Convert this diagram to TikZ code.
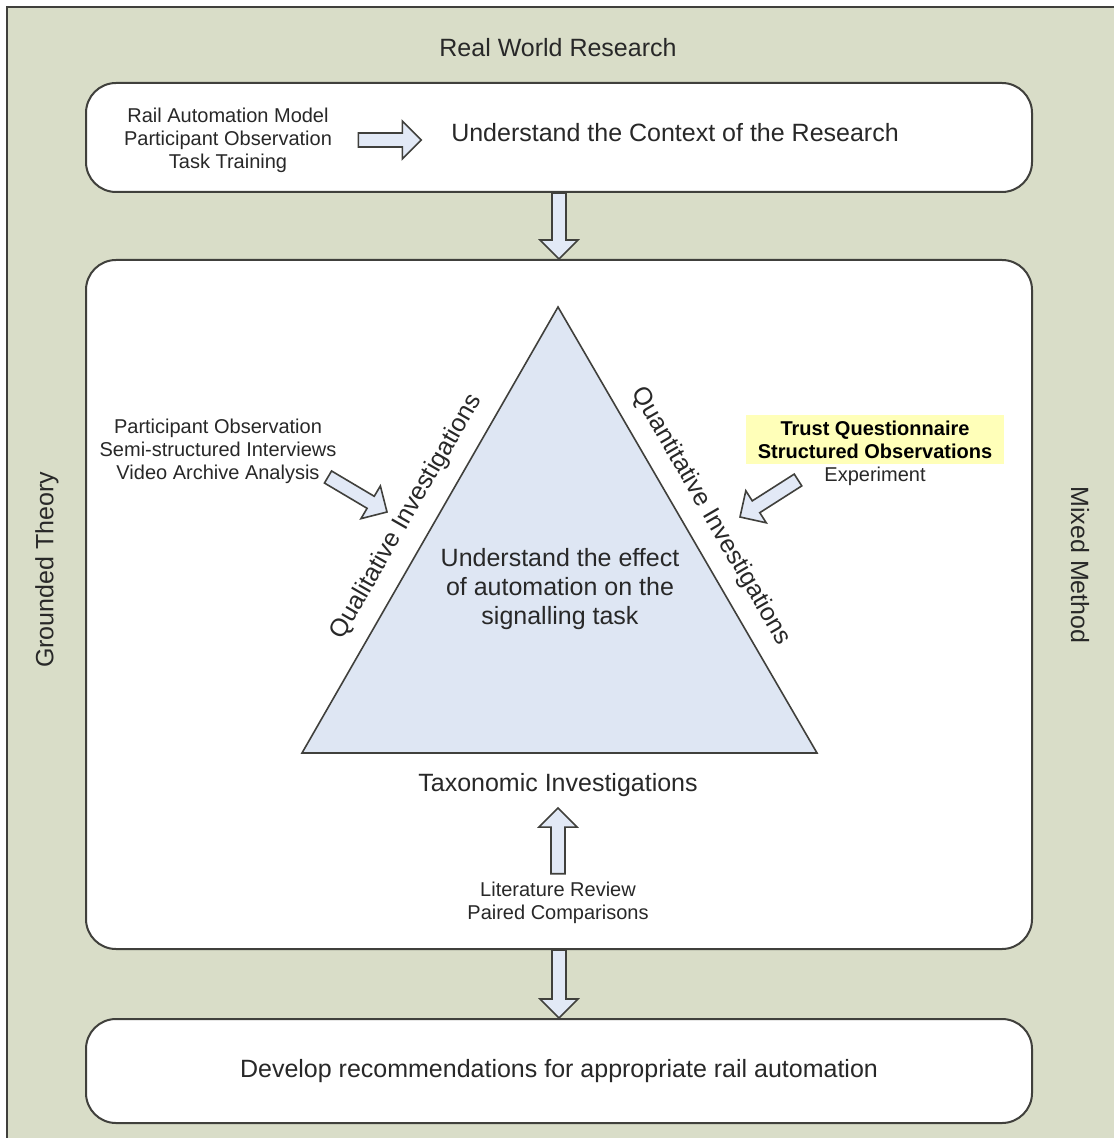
\documentclass[tikz,border=0pt]{standalone}
\usepackage{fontspec}
\setmainfont{Liberation Sans}
\usetikzlibrary{calc,positioning}

\definecolor{bgolive}{RGB}{217,221,200}
\definecolor{framegray}{RGB}{64,64,60}
\definecolor{textgray}{RGB}{40,40,40}
\definecolor{triblue}{RGB}{222,230,243}
\definecolor{arrowblue}{RGB}{226,233,246}
\definecolor{hiyellow}{RGB}{255,255,185}

\begin{document}
\begin{tikzpicture}[x=0.5pt,y=-0.5pt,
    box/.style={draw=framegray, line width=1pt, fill=white, rounded corners=15pt},
    big/.style={font=\fontsize{12.5}{14.5}\selectfont, text=textgray, inner sep=0pt},
    small/.style={font=\fontsize{10}{11.5}\selectfont, text=textgray, align=center, inner sep=0pt},
    fatarrow/.style={draw=framegray, line width=0.8pt, fill=arrowblue, line join=miter,
      to path={($(\tikztostart)!3.5pt!90:(\tikztotarget)$)
        -- ($($(\tikztotarget)!9.5pt!(\tikztostart)$)!3.5pt!90:(\tikztotarget)$)
        -- ($($(\tikztotarget)!9.5pt!(\tikztostart)$)!9.5pt!90:(\tikztotarget)$)
        -- (\tikztotarget)
        -- ($($(\tikztotarget)!9.5pt!(\tikztostart)$)!9.5pt!-90:(\tikztotarget)$)
        -- ($($(\tikztotarget)!9.5pt!(\tikztostart)$)!3.5pt!-90:(\tikztotarget)$)
        -- ($(\tikztostart)!3.5pt!-90:(\tikztotarget)$) -- cycle}}]
    % background and frame
    \useasboundingbox (0,0) rectangle (1114,1138);
    \fill[bgolive] (7,7) rectangle (1114,1138);
    \draw[framegray, line width=1pt] (7,1138) -- (7,7) -- (1114,7);

    \node[big] (title) at (558,48) {Real World Research};
    \node[big, rotate=90] (grounded) at (47,570) {Grounded Theory};
    \node[big, rotate=-90] (mixed) at (1080,565) {Mixed Method};

    % the three stages
    \node[box, minimum width=473pt, minimum height=54.5pt] (ctxbox) at (559,137.5) {};
    \node[box, minimum width=473pt, minimum height=344.5pt] (mainbox) at (559,604.5) {};
    \node[box, big, minimum width=473pt, minimum height=52pt] (recbox) at (559,1071)
        {Develop recommendations for appropriate rail automation};

    % context of the research
    \node[small] (ctxsrc) at (228,140) {Rail Automation Model\\Participant Observation\\Task Training};
    \node[big] (ctxgoal) at (675,133) {Understand the Context of the Research};
    \coordinate[right=13pt of ctxsrc] (ctxtail);
    \coordinate[right=31.5pt of ctxtail] (ctxtip);

    % the triangle
    \coordinate (tritop) at (558,307);
    \coordinate (trileft) at (302,753);
    \coordinate (triright) at (817,753);
    \draw[framegray, line width=0.8pt, fill=triblue] (tritop) -- (trileft) -- (triright) -- cycle;
    \path (trileft) -- node[big, sloped, above=7.5pt] (qual) {Qualitative Investigations} (tritop);
    \path (tritop) -- node[big, sloped, above=7.5pt] (quan) {Quantitative Investigations} (triright);
    \node[big, align=center] (effect) at (560,589) {Understand the effect\\of automation on the\\signalling task};
    \node[big] (taxo) at (558,785) {Taxonomic Investigations};

    % methods feeding the triangle
    \node[small] (qualsrc) at (218,451) {Participant Observation\\Semi-structured Interviews\\Video Archive Analysis};
    \coordinate (qualtail) at (328,477);
    \coordinate (qualtip) at (387,512);
    \node[small, font=\fontsize{10}{11.5}\selectfont\bfseries, text=black, fill=hiyellow,
        inner xsep=6pt, inner ysep=3pt] (trustsrc) at (875,439.5) {Trust Questionnaire\\Structured Observations};
    \node[small, below=1pt of trustsrc] (expsrc) {Experiment};
    \coordinate (quantail) at (798,480);
    \coordinate (quantip) at (740,517);
    \node[small] (litsrc) at (558,903) {Literature Review\\Paired Comparisons};

    \draw[fatarrow] (ctxtail) to (ctxtip);
    \draw[fatarrow] (ctxbox.south) to (mainbox.north);
    \draw[fatarrow] (qualtail) to (qualtip);
    \draw[fatarrow] (quantail) to (quantip);
    \draw[fatarrow] ([yshift=4pt]litsrc.north) to ([yshift=-5.5pt]taxo.south);
    \draw[fatarrow] (mainbox.south) to (recbox.north);
\end{tikzpicture}
\end{document}
